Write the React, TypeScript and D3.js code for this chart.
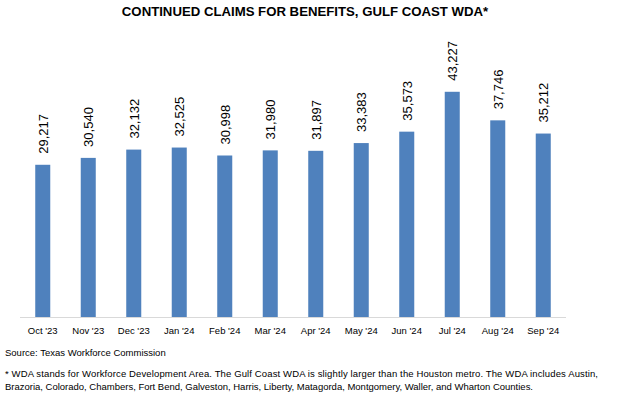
import React from "react";
import * as d3 from "d3";

const categories = ["Oct '23", "Nov '23", "Dec '23", "Jan '24", "Feb '24", "Mar '24", "Apr '24", "May '24", "Jun '24", "Jul '24", "Aug '24", "Sep '24"];
const values = [29217, 30540, 32132, 32525, 30998, 31980, 31897, 33383, 35573, 43227, 37746, 35212];
const title = "CONTINUED CLAIMS FOR BENEFITS, GULF COAST WDA*";
const source = "Source: Texas Workforce Commission";
const footnote = [
  "* WDA stands for Workforce Development Area. The Gulf Coast WDA is slightly larger than the Houston metro. The WDA includes Austin,",
  "Brazoria, Colorado, Chambers, Fort Bend, Galveston, Harris, Liberty, Matagorda, Montgomery, Waller, and Wharton Counties.",
];
const footnoteWidths = [593, 528];

const W = 619;
const H = 405;
const FONT = "'Liberation Sans', Arial, sans-serif";

export default function App() {
  const x = d3.scaleBand<string>().domain(categories).range([20, 566]).paddingInner(0.67).paddingOuter(0.335);
  const y = d3.scaleLinear().domain([0, 50000]).range([317, 56.5]);
  const fmt = d3.format(",");
  return (
    <svg width={W} height={H} style={{ position: "absolute", left: 0, top: 0, background: "#fff" }} fontFamily={FONT}>
      <rect x={0} y={0} width={W} height={H} fill="#fff" />
      <text x={305} y={16} textAnchor="middle" fontWeight="bold" fontSize={13.2} fill="#000">{title}</text>
      <line x1={20} x2={566} y1={y(0) + 0.5} y2={y(0) + 0.5} stroke="#d9d9d9" strokeWidth={1} />
      {categories.map((c, i) => {
        const cx = (x(c) as number) + x.bandwidth() / 2;
        return (
          <g key={c}>
            <rect x={x(c)} y={y(values[i])} width={x.bandwidth()} height={y(0) - y(values[i])} fill="#4f81bd" />
            <text
              transform={`translate(${cx + 4.8},${y(values[i]) - 11}) rotate(-90)`}
              textAnchor="start"
              fontSize={13}
              fill="#000"
            >
              {fmt(values[i])}
            </text>
            <text x={cx} y={334} textAnchor="middle" fontSize={9.5} fill="#000">{c}</text>
          </g>
        );
      })}
      <text x={5} y={356} fontSize={9.5} fill="#000">{source}</text>
      {footnote.map((t, i) => (
        <text key={i} x={5} y={376.5 + i * 13} fontSize={9.5} fill="#000" textLength={footnoteWidths[i]} lengthAdjust="spacing">{t}</text>
      ))}
    </svg>
  );
}
